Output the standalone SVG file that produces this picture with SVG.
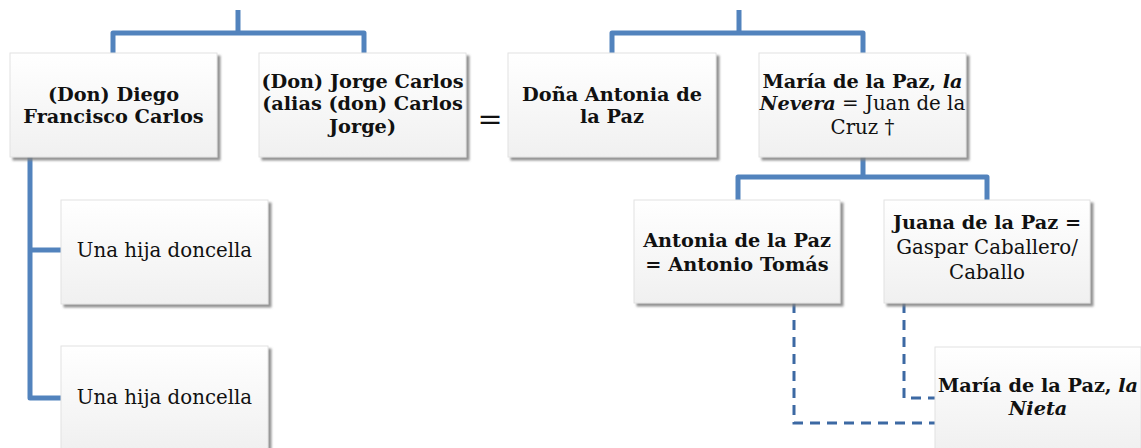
<svg xmlns="http://www.w3.org/2000/svg" width="1141" height="448" viewBox="0 0 1141 448">
<style>
.box{fill:url(#g);stroke:#e2e2e2;stroke-width:1;filter:url(#sh)}
.t{font-family:"DejaVu Serif","Liberation Serif",serif;font-size:19.8px;fill:#111;text-anchor:middle}
.b{font-weight:bold;font-size:19.3px}
.i{font-style:italic}
.con{fill:none;stroke:#5283bd;stroke-width:5;stroke-linejoin:round}
.dash{fill:none;stroke:#3c69a3;stroke-width:3;stroke-dasharray:10 7}
</style>
<defs>
<linearGradient id="g" x1="0" y1="0" x2="0" y2="1">
<stop offset="0" stop-color="#ffffff"/>
<stop offset="1" stop-color="#f0f0f0"/>
</linearGradient>
<filter id="sh" x="-5%" y="-5%" width="115%" height="120%">
<feDropShadow dx="3" dy="3" stdDeviation="1" flood-color="#808080" flood-opacity="0.85"/>
</filter>
</defs>
<g id="connectors">
<path class="con" d="M238,10 V33 M113,53 V33 H364 V53"/>
<path class="con" d="M739,10 V33 M612,53 V33 H863 V53"/>
<path class="con" d="M863,157 V177 M738,200 V177 H987 V200"/>
<path class="con" d="M30,157 V398 H61 M30,250 H61"/>
<path class="dash" d="M794,303 V423 H935"/>
<path class="dash" d="M904,303 V398 H935"/>
</g>
<g id="n1"><rect class="box" x="10" y="53" width="207" height="104"/>
<text class="t b" x="113.5" y="101">(Don) Diego</text>
<text class="t b" x="113.5" y="123">Francisco Carlos</text></g>
<g id="n2"><rect class="box" x="259" y="53" width="207" height="104"/>
<text class="t b" x="362.5" y="88">(Don) Jorge Carlos</text>
<text class="t b" x="362.5" y="110">(alias (don) Carlos</text>
<text class="t b" x="362.5" y="133">Jorge)</text></g>
<g id="eq"><text class="t" x="490" y="129" style="font-size:30px">=</text></g>
<g id="n3"><rect class="box" x="508" y="53" width="208" height="104"/>
<text class="t b" x="612" y="101">Doña Antonia de</text>
<text class="t b" x="612" y="123">la Paz</text></g>
<g id="n4"><rect class="box" x="759" y="53" width="207" height="104"/>
<text class="t b" x="862.5" y="88">María de la Paz, <tspan class="i">la</tspan></text>
<text class="t" x="862.5" y="110"><tspan class="b i">Nevera</tspan> = Juan de la</text>
<text class="t" x="862.5" y="134">Cruz †</text></g>
<g id="n5"><rect class="box" x="61" y="200" width="207" height="104"/>
<text class="t" x="164.5" y="257">Una hija doncella</text></g>
<g id="n6"><rect class="box" x="61" y="346" width="207" height="104"/>
<text class="t" x="164.5" y="404">Una hija doncella</text></g>
<g id="n7"><rect class="box" x="634" y="200" width="206" height="103"/>
<text class="t b" x="737" y="247">Antonia de la Paz</text>
<text class="t b" x="737" y="271">= Antonio Tomás</text></g>
<g id="n8"><rect class="box" x="884" y="200" width="206" height="103"/>
<text class="t b" x="987" y="229">Juana de la Paz =</text>
<text class="t" x="987" y="254">Gaspar Caballero/</text>
<text class="t" x="987" y="279">Caballo</text></g>
<g id="n9"><rect class="box" x="935" y="347" width="206" height="104"/>
<text class="t b" x="1038" y="392">María de la Paz, <tspan class="i">la</tspan></text>
<text class="t b i" x="1038" y="415">Nieta</text></g>
</svg>
